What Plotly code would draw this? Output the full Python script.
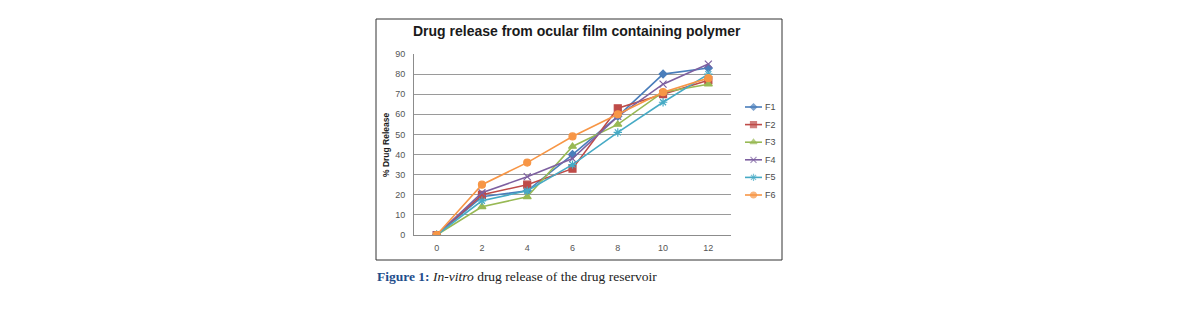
import plotly.graph_objects as go

# Time points (h) and cumulative % drug release for each formulation
time_h = [0, 2, 4, 6, 8, 10, 12]
f1 = [0, 19, 22, 40, 59, 80, 83]
f2 = [0, 20, 25, 33, 63, 70, 77]
f3 = [0, 14, 19, 44, 55, 71, 75]
f4 = [0, 21, 29, 38, 59, 75, 85]
f5 = [0, 17, 22, 35, 51, 66, 80]
f6 = [0, 25, 36, 49, 60, 71, 78]

series_names = ["F1", "F2", "F3", "F4", "F5", "F6"]
series_values = [f1, f2, f3, f4, f5, f6]
colors = ["#4A7EBB", "#BE4B48", "#98B954", "#7D60A0", "#46AAC5", "#F79646"]
symbols = ["diamond", "square", "triangle-up", "x-thin", "asterisk", "circle"]
sizes = [6, 7, 7, 7, 7, 7]

W, H = 1183, 329
L, R, T, B = 414, 731, 54, 235  # plot area in page pixels


def px(x):
    return x / W


def py(y):
    return (H - y) / H


fig = go.Figure()
for name, vals, col, sym, sz in zip(series_names, series_values, colors, symbols, sizes):
    fig.add_trace(go.Scatter(
        x=time_h, y=vals, name=name, mode="lines+markers", showlegend=False,
        line=dict(color=col, width=1.6),
        marker=dict(symbol=sym, size=sz, color=col,
                    line=dict(color=col, width=1.2)),
    ))

# Legend drawn on its own pixel-scaled axes to the right of the plot
leg_x0, leg_x1, leg_y0, leg_dy = 745, 762, 107, 17.6
annotations = []
for i, (name, col, sym, sz) in enumerate(zip(series_names, colors, symbols, sizes)):
    yy = leg_y0 + i * leg_dy
    fig.add_trace(go.Scatter(
        x=[leg_x0, (leg_x0 + leg_x1) / 2, leg_x1], y=[yy, yy, yy],
        mode="lines+markers", xaxis="x2", yaxis="y2", showlegend=False,
        hoverinfo="skip",
        line=dict(color=col, width=1.6),
        marker=dict(symbol=sym, size=[0, sz - 1, 0], color=col,
                    line=dict(color=col, width=1.2)),
    ))
    annotations.append(dict(text=name, xref="x2", yref="y2", x=leg_x1 + 1, y=yy,
                            xanchor="left", yanchor="middle", showarrow=False,
                            font=dict(size=9, color="#4a4a4a")))

annotations += [
    dict(text="<b>Drug release from ocular film containing polymer</b>",
         xref="paper", yref="paper", x=px(577), y=py(31),
         xanchor="center", yanchor="middle", showarrow=False,
         font=dict(size=14, color="#1a1a1a")),
    dict(text="<b>% Drug Release</b>", textangle=-90,
         xref="paper", yref="paper", x=px(386), y=py(145),
         xanchor="center", yanchor="middle", showarrow=False,
         font=dict(size=8.5, color="#1a1a1a")),
    dict(text="<span style='color:#1F4E8C'><b>Figure 1:</b></span> "
              "<i>In-vitro</i> drug release of the drug reservoir",
         xref="paper", yref="paper", x=px(375), y=py(276),
         xanchor="left", yanchor="middle", showarrow=False,
         font=dict(size=13.5, color="#222222",
                   family="Liberation Serif, Times New Roman, serif")),
]

tick_font = dict(size=9, color="#555555")

fig.update_layout(
    width=W, height=H,
    margin=dict(l=0, r=0, t=0, b=0, pad=0, autoexpand=False),
    paper_bgcolor="white", plot_bgcolor="white",
    font=dict(family="Liberation Sans, Arial, sans-serif", color="#595959", size=9),
    showlegend=False,
    xaxis=dict(domain=[px(L), px(R)], range=[-1, 13], tickvals=time_h,
               ticktext=[str(t) for t in time_h], automargin=False,
               showgrid=False, zeroline=False, showline=True, linecolor="#8C8C8C",
               linewidth=1, ticks="", ticklabelstandoff=4, tickfont=tick_font,
               fixedrange=True),
    yaxis=dict(domain=[py(B), py(T)], range=[0, 90], dtick=10, showgrid=True,
               automargin=False,
               gridcolor="#9A9A9A", gridwidth=1, zeroline=False, showline=True,
               linecolor="#8C8C8C", linewidth=1,
               ticks="", ticklabelstandoff=6, tickfont=tick_font, fixedrange=True),
    xaxis2=dict(domain=[px(735), px(780)], range=[735, 780], visible=False,
                automargin=False, fixedrange=True),
    yaxis2=dict(domain=[py(210), py(95)], range=[210, 95], visible=False,
                automargin=False, anchor="x2", fixedrange=True),
    shapes=[
        dict(type="rect", xref="paper", yref="paper",
             x0=px(376), x1=px(782), y0=py(260), y1=py(19),
             line=dict(color="#333333", width=1), fillcolor="rgba(0,0,0,0)",
             layer="below"),
    ],
    annotations=annotations,
)

fig.write_html("out.html")
